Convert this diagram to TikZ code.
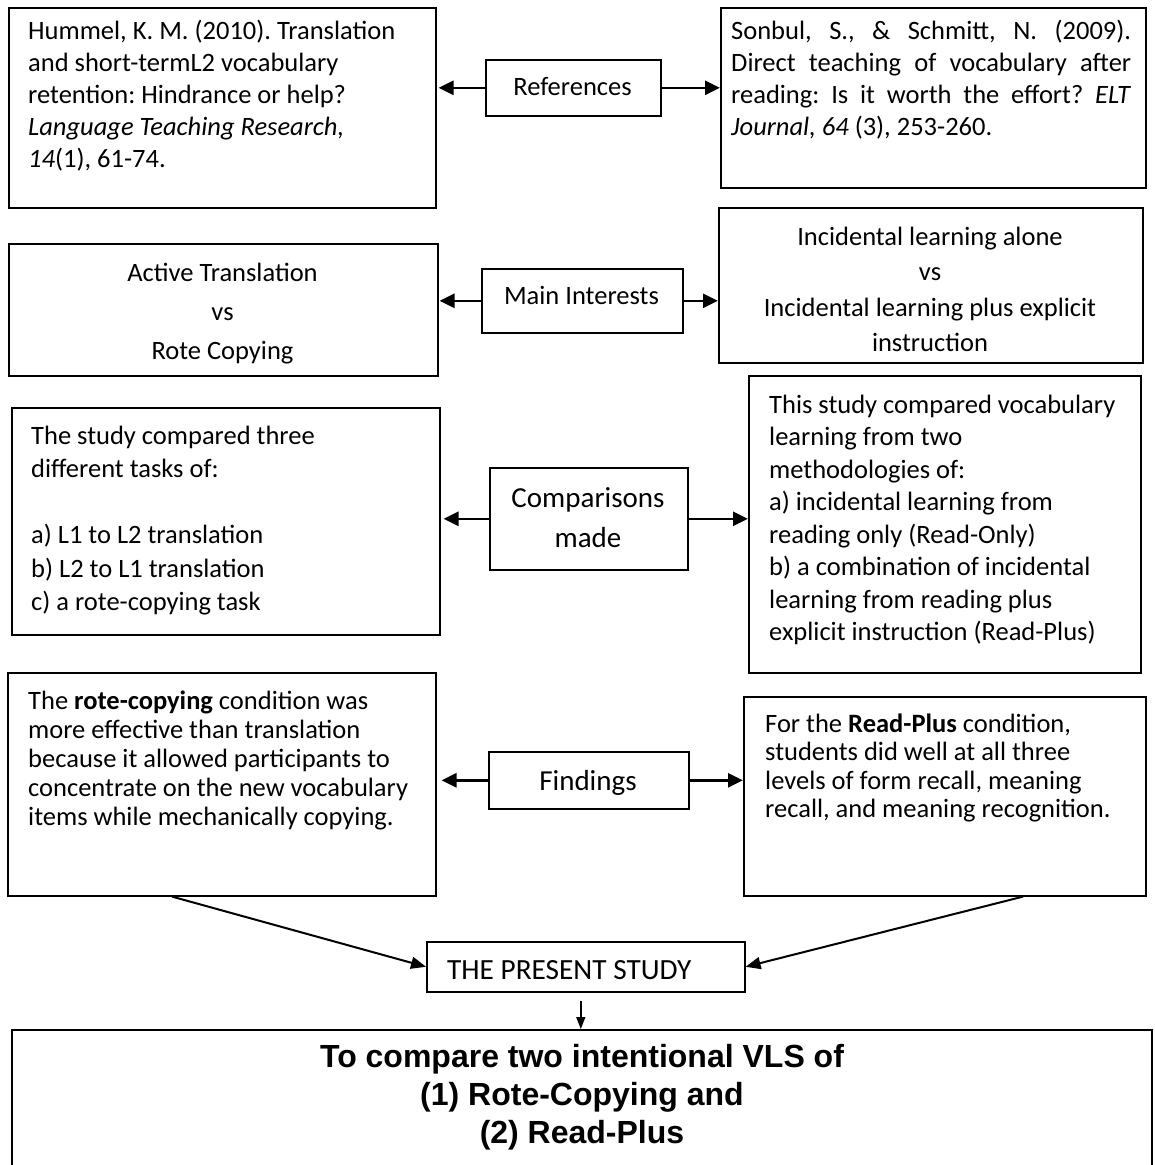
\documentclass[tikz,border=0pt]{standalone}
\usepackage{fontspec}
\setmainfont{Carlito}
\newfontfamily\arialfont{Liberation Sans}
\usetikzlibrary{arrows.meta}
\frenchspacing
\newcommand\Lines[2]{\begin{tabular}[t]{@{}#1@{}}#2\end{tabular}}
\newcommand\fs[2]{\fontsize{#1}{#2}\selectfont}
\begin{document}
\begin{tikzpicture}[x=1pt,y=-1pt,
  box/.style={draw, line width=1.6pt, inner sep=0pt, anchor=north west},
  txt/.style={inner sep=0pt, anchor=base west, execute at begin node=\frenchspacing},
  ctxt/.style={inner sep=0pt, anchor=base, execute at begin node=\frenchspacing},
  arr/.style={line width=2.6pt, -{Triangle[length=15pt,width=14pt]}},
  sarr/.style={line width=2pt, -{Triangle[length=15pt,width=12pt]}},
  darr/.style={line width=1.5pt, -{Triangle[length=12pt,width=9pt]}}]
\useasboundingbox (0,0) rectangle (1155,1165);
% boxes
\node[box, minimum width=427pt, minimum height=200pt] (hum) at (8,7) {};
\node[box, minimum width=175pt, minimum height=56pt] (ref) at (485,59) {};
\node[box, minimum width=425pt, minimum height=180pt] (son) at (720,7) {};
\node[box, minimum width=429pt, minimum height=132pt] (act) at (8,243) {};
\node[box, minimum width=201pt, minimum height=64pt] (mi) at (481,268) {};
\node[box, minimum width=424pt, minimum height=155pt] (inc) at (718,207) {};
\node[box, minimum width=428pt, minimum height=227pt] (cl) at (11,407) {};
\node[box, minimum width=198pt, minimum height=102pt] (cm) at (489,467) {};
\node[box, minimum width=392pt, minimum height=297pt] (cr) at (748,375) {};
\node[box, minimum width=428pt, minimum height=223pt] (fl) at (7,672) {};
\node[box, minimum width=200pt, minimum height=57pt] (fd) at (488,751) {};
\node[box, minimum width=402pt, minimum height=199pt] (fr) at (743,696) {};
\node[box, minimum width=318pt, minimum height=50pt] (ps) at (426,941) {};
\node[box, minimum width=1140pt, minimum height=200pt] (goal) at (11,1029) {};
% texts
\node[txt] (humt) at (28,39) {\fs{26.5}{32}\Lines{l}{Hummel, K. M. (2010). Translation\\ and short-termL2 vocabulary\\ retention: Hindrance or help?\\ \textit{Language Teaching Research,}\\ \textit{14}(1), 61-74.}};
\node[ctxt] (reft) at (572.5,95) {\fs{26.5}{32}References};
\node[txt] (sont) at (731,39) {\fs{26.5}{32}\Lines{l}{\makebox[400pt][s]{Sonbul, S., \& Schmitt, N. (2009).}\\ \makebox[400pt][s]{Direct teaching of vocabulary after}\\ \makebox[400pt][s]{reading: Is it worth the effort? \textit{ELT}}\\ \textit{Journal, 64} (3), 253-260.}};
\node[ctxt] (actt) at (222.5,281) {\fs{26.5}{39}\Lines{c}{Active Translation\\ vs\\ Rote Copying}};
\node[ctxt] (mit) at (581.5,304) {\fs{26.5}{32}Main Interests};
\node[ctxt] (inct) at (930,245) {\fs{26.5}{35.5}\Lines{c}{Incidental learning alone\\ vs\\ Incidental learning plus explicit\\ instruction}};
\node[txt] (clt) at (31,444) {\fs{26.5}{33.3}\Lines{l}{The study compared three\\ different tasks of:\\ \\ a) L1 to L2 translation\\ b) L2 to L1 translation\\ c) a rote-copying task}};
\node[ctxt] (cmt) at (588,507) {\fs{29}{40}\Lines{c}{Comparisons\\ made}};
\node[txt] (crt) at (769,413) {\fs{26.5}{32.5}\Lines{l}{This study compared vocabulary\\ learning from two\\ methodologies of:\\ a) incidental learning from\\ reading only (Read-Only)\\ b) a combination of incidental\\ learning from reading plus\\ explicit instruction (Read-Plus)}};
\node[txt] (flt) at (28,709) {\fs{26.5}{29.2}\Lines{l}{The \textbf{rote-copying} condition was\\ more effective than translation\\ because it allowed participants to\\ concentrate on the new vocabulary\\ items while mechanically copying.}};
\node[ctxt] (fdt) at (588,790) {\fs{29}{32}Findings};
\node[txt] (frt) at (765,732) {\fs{26.5}{28.6}\Lines{l}{For the \textbf{Read-Plus} condition,\\ students did well at all three\\ levels of form recall, meaning\\ recall, and meaning recognition.}};
\node[txt] (pst) at (447,979) {\fs{29.3}{32}THE PRESENT STUDY};
\node[ctxt] (goalt) at (582,1067) {\arialfont\bfseries\fs{32}{38}\Lines{c}{To compare two intentional VLS of\\ (1) Rote-Copying and\\ (2) Read-Plus}};
% connectors
\draw[arr, shorten >=2pt] (ref.west) -- (ref.west -| hum.east);
\draw[arr] (ref.east) -- (ref.east -| son.west);
\draw[arr, shorten >=1pt] (mi.west) -- (mi.west -| act.east);
\draw[arr] (mi.east) -- (mi.east -| inc.west);
\draw[arr, shorten >=3pt] (cm.west) -- (cm.west -| cl.east);
\draw[arr] (cm.east) -- (cm.east -| cr.west);
\draw[arr, shorten >=5pt] (fd.west) -- (fd.west -| fl.east);
\draw[arr] (fd.east) -- (fd.east -| fr.west);
\coordinate (fls) at ([xshift=165pt]fl.south west);
\coordinate (frs) at ([xshift=280pt]fr.south west);
\draw[sarr] (fls) -- (ps.west);
\draw[sarr] (frs) -- (ps.east);
\coordinate (dtop) at ([xshift=-5pt,yshift=-8pt]ps.south);
\coordinate (dbot) at (dtop |- goal.north);
\draw[darr] (dtop) -- (dbot);
\end{tikzpicture}
\end{document}
